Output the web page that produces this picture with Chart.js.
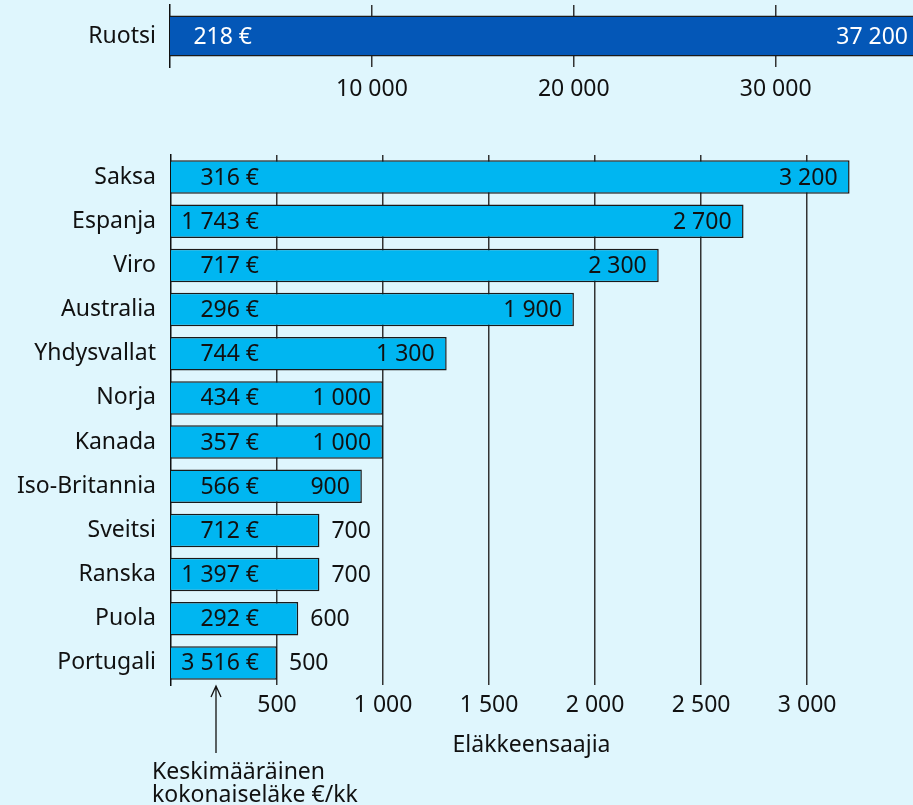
<!DOCTYPE html>
<html lang="fi">
<head>
<meta charset="utf-8">
<title>Eläkkeensaajat</title>
<script src="https://cdn.jsdelivr.net/npm/chart.js@4.4.1/dist/chart.umd.min.js"></script>
<style>
  html, body { margin: 0; padding: 0; background: #dff6fd; }
  #wrap { position: relative; width: 913px; height: 805px; overflow: hidden; background: #dff6fd; }
  #topChart { position: absolute; left: 0; top: 0; }
  #bottomChart { position: absolute; left: 0; top: 110px; }
</style>
</head>
<body>
<div id="wrap">
  <canvas id="topChart" width="913" height="110"></canvas>
  <canvas id="bottomChart" width="913" height="695"></canvas>
</div>
<script>
// Ruotsi on omalla asteikollaan
const topCountries = ['Ruotsi'];
const topRecipients = [37200];
const topPension = [218];
const topTicks = [10000, 20000, 30000];

// muut maat
const countries = ['Saksa', 'Espanja', 'Viro', 'Australia', 'Yhdysvallat', 'Norja',
  'Kanada', 'Iso-Britannia', 'Sveitsi', 'Ranska', 'Puola', 'Portugali'];
const recipients = [3200, 2700, 2300, 1900, 1300, 1000, 1000, 900, 700, 700, 600, 500];
const pension = [316, 1743, 717, 296, 744, 434, 357, 566, 712, 1397, 292, 3516];
const bottomTicks = [500, 1000, 1500, 2000, 2500, 3000];

const FONT = 'Noto Sans';
const FONT_SIZE = 23;

// 1743 -> "1 743"
function fmt(n) {
  return String(n).replace(/\B(?=(\d{3})+(?!\d))/g, ' ');
}

// eläkkeet vasemmalle, saajamäärät palkin päähän
const barLabels = {
  id: 'barLabels',
  afterDatasetsDraw(chart, args, opts) {
    const ctx = chart.ctx;
    const area = chart.chartArea;
    const meta = chart.getDatasetMeta(0);
    const pensionX = area.left + opts.pensionRight;
    ctx.save();
    ctx.font = FONT_SIZE + 'px "' + FONT + '"';
    ctx.textBaseline = 'middle';
    ctx.fillStyle = opts.color;
    meta.data.forEach((bar, i) => {
      ctx.textAlign = 'right';
      ctx.fillText(fmt(opts.pension[i]) + ' €', pensionX, bar.y + 1);
      const txt = fmt(opts.values[i]);
      const w = ctx.measureText(txt).width;
      const end = Math.min(bar.x, chart.width);
      if (end - pensionX > w + 30) {
        ctx.fillText(txt, end - opts.pad, bar.y + 1);
      } else {
        ctx.textAlign = 'left';
        ctx.fillText(txt, end + opts.pad, bar.y + 1);
      }
    });
    ctx.restore();
  }
};

// selite ja nuoli eläkesarakkeen alle
const pensionNote = {
  id: 'pensionNote',
  afterDraw(chart) {
    const ctx = chart.ctx;
    const area = chart.chartArea;
    const ax = area.left + 45;
    const tip = area.bottom + 1;
    ctx.save();
    ctx.strokeStyle = '#111';
    ctx.lineWidth = 1.3;
    ctx.beginPath();
    ctx.moveTo(ax, tip);
    ctx.lineTo(ax, tip + 67);
    ctx.moveTo(ax - 5, tip + 11);
    ctx.lineTo(ax, tip);
    ctx.lineTo(ax + 5, tip + 11);
    ctx.stroke();
    ctx.font = FONT_SIZE + 'px "' + FONT + '"';
    ctx.fillStyle = '#111';
    ctx.textAlign = 'left';
    ctx.textBaseline = 'middle';
    ctx.fillText('Keskimääräinen', 152, tip + 86);
    ctx.fillText('kokonaiseläke €/kk', 152, tip + 109);
    ctx.restore();
  }
};

// ei ylimääräistä tyhjää y-akselin päihin
function fixY(width) {
  return (scale) => {
    scale.width = width;
    scale.paddingTop = 0;
    scale.paddingBottom = 0;
  };
}

Chart.defaults.font.family = FONT;
Chart.defaults.font.size = FONT_SIZE;
Chart.defaults.color = '#111';

new Chart(document.getElementById('topChart'), {
  type: 'bar',
  data: {
    labels: topCountries,
    datasets: [{
      data: topRecipients,
      backgroundColor: '#0457b7',
      borderColor: '#1a1a1a',
      borderWidth: 1.5,
      barPercentage: 0.66,
      categoryPercentage: 1
    }]
  },
  options: {
    indexAxis: 'y',
    responsive: false,
    animation: false,
    layout: { padding: { top: 5, right: 0, bottom: 0, left: 0 } },
    scales: {
      x: {
        min: 0,
        max: 36800,
        afterBuildTicks: (scale) => { scale.ticks = topTicks.map(v => ({ value: v })); },
        afterFit: (scale) => { scale.height = 43; scale.paddingLeft = 0; scale.paddingRight = 0; },
        grid: { color: '#333', lineWidth: 1.5, drawTicks: false },
        border: { display: false },
        ticks: { padding: 9, callback: (v) => fmt(v) }
      },
      y: {
        afterFit: fixY(170),
        grid: { display: false, drawTicks: false },
        border: { color: '#111', width: 1.5 },
        ticks: { padding: 14 }
      }
    },
    plugins: {
      legend: { display: false },
      tooltip: { enabled: false },
      barLabels: { pension: topPension, values: topRecipients, pensionRight: 82, pad: 5, color: '#fff' }
    }
  },
  plugins: [barLabels]
});

new Chart(document.getElementById('bottomChart'), {
  type: 'bar',
  data: {
    labels: countries,
    datasets: [{
      data: recipients,
      backgroundColor: '#00b6f1',
      borderColor: '#1a1a1a',
      borderWidth: 1.5,
      barPercentage: 0.76,
      categoryPercentage: 1
    }]
  },
  options: {
    indexAxis: 'y',
    responsive: false,
    animation: false,
    layout: { padding: { top: 45, right: 21, bottom: 0, left: 0 } },
    scales: {
      x: {
        min: 0,
        max: 3400,
        afterBuildTicks: (scale) => { scale.ticks = bottomTicks.map(v => ({ value: v })); },
        afterFit: (scale) => { scale.height = 120; },
        grid: { color: '#333', lineWidth: 1.5, drawTicks: false },
        border: { display: false },
        ticks: { padding: 7, callback: (v) => fmt(v) },
        title: { display: true, text: 'Eläkkeensaajia', padding: { top: 0, bottom: 46 } }
      },
      y: {
        afterFit: fixY(171),
        grid: { display: false, drawTicks: false },
        border: { color: '#111', width: 1.5 },
        ticks: { padding: 15 }
      }
    },
    plugins: {
      legend: { display: false },
      tooltip: { enabled: false },
      barLabels: { pension: pension, values: recipients, pensionRight: 88, pad: 12, color: '#111' }
    }
  },
  plugins: [barLabels, pensionNote]
});
</script>
</body>
</html>
